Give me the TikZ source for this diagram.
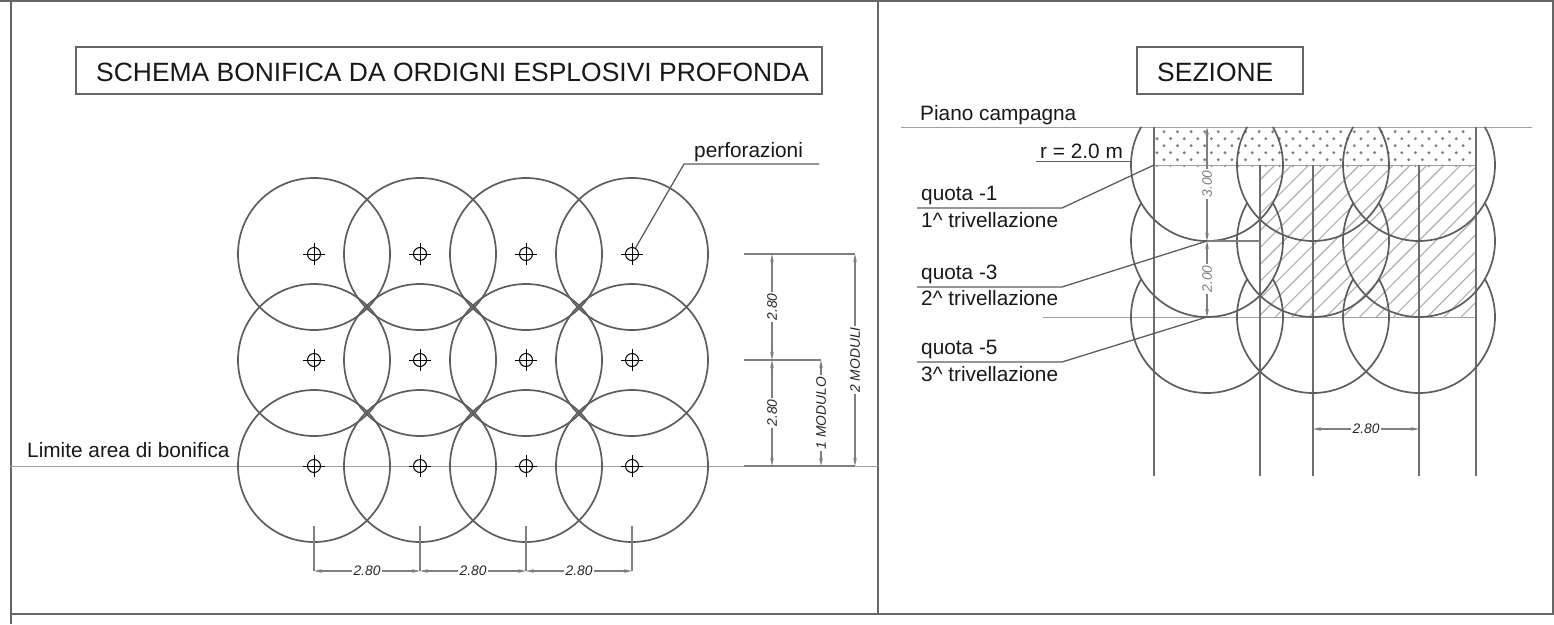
\documentclass[tikz,border=0pt]{standalone}
\usepackage{fontspec}
\setmainfont{Liberation Sans}
\usetikzlibrary{arrows.meta,calc}
\definecolor{linegray}{HTML}{5E5E5E}
\definecolor{columngray}{HTML}{6E6E6E}
\definecolor{framegray}{HTML}{666666}
\definecolor{dimgray}{HTML}{808080}
\definecolor{thingray}{HTML}{A0A0A0}
\definecolor{hatchgray}{HTML}{B0B0B0}
\tikzset{
  x=1pt,y=-1pt,
  frameline/.style={draw=framegray,line width=2.2pt},
  titlebox/.style={draw=framegray,line width=1.5pt,inner sep=0pt},
  titletext/.style={font=\fontsize{26.45}{30}\selectfont,anchor=base west,inner sep=0pt,text=black!90},
  bigcircle/.style={draw=linegray,line width=1.7pt},
  column/.style={draw=columngray,line width=1.5pt},
  thinline/.style={draw=thingray,line width=0.9pt},
  leader/.style={draw=linegray,line width=1.3pt},
  label/.style={font=\fontsize{20.8}{24}\selectfont,anchor=base west,inner sep=0pt,text=black!90},
  dimline/.style={draw=dimgray,line width=1.3pt,{Stealth[length=8pt,width=3.6pt]}-{Stealth[length=8pt,width=3.6pt]}},
  extline/.style={draw=dimgray,line width=1.6pt},
  dimtext/.style={font=\fontsize{13.8}{16}\itshape\selectfont,fill=white,inner xsep=1.5pt,inner ysep=0.5pt,text=black!85},
  dimgraytext/.style={dimtext,text=dimgray},
  hole/.style={circle,draw=black,line width=1pt,minimum size=13pt,inner sep=0pt},
}
\begin{document}
\begin{tikzpicture}
\useasboundingbox (0,0) rectangle (1554,624);
\fill[white] (0,0) rectangle (1554,624);
% frame
\draw[frameline] (0,1) -- (1554,1);
\draw[frameline] (11,0) -- (11,624);
\draw[frameline] (878,0) -- (878,614);
\draw[frameline] (1553,0) -- (1553,614);
\draw[frameline] (11,614) -- (1554,614);
% titles
\node[titlebox,minimum width=746pt,minimum height=47pt] (t1) at (449,70.5) {};
\node[titletext] (t1t) at (96,81) {SCHEMA BONIFICA DA ORDIGNI ESPLOSIVI PROFONDA};
\node[titlebox,minimum width=166pt,minimum height=47pt] (t2) at (1220,70.5) {};
\node[titletext] (t2t) at (1157,81) {SEZIONE};
% left plan
\draw[thinline] (10,466) -- (878,466);
\foreach \cx/\ci in {314/1,420/2,526/3,632/4}{
  \foreach \cy/\cj in {254/1,360/2,466/3}{
    \draw[bigcircle] (\cx,\cy) circle[radius=76pt];
    \node[hole] (h\ci\cj) at (\cx,\cy) {};
    \draw[black,line width=1pt] (\cx-11,\cy) -- (\cx+11,\cy) (\cx,\cy-11) -- (\cx,\cy+11);
  }
}
\node[label] (perf) at (694,157) {perforazioni};
\coordinate (pa) at (684,164);
\coordinate (pb) at (819,164);
\draw[leader] (pb) -- (pa) -- (h41);
\node[label] (limite) at (27,457) {Limite area di bonifica};
% left vertical dimensions
\coordinate (d1) at (772,254); \coordinate (d2) at (772,360); \coordinate (d3) at (772,466);
\coordinate (m1) at (821,360); \coordinate (m2) at (821,466);
\coordinate (n1) at (855,254); \coordinate (n2) at (855,466);
\draw[extline] (744,254) -- (n1);
\draw[extline] (744,360) -- (m1);
\draw[extline] (744,466) -- (n2);
\draw[dimline] (d1) -- node[dimtext,rotate=90] (e1) {2.80} (d2);
\draw[dimline] (d2) -- node[dimtext,rotate=90] (e2) {2.80} (d3);
\draw[dimline] (m1) -- node[dimtext,rotate=90] (e3) {1 MODULO} (m2);
\draw[dimline] (n1) -- node[dimtext,rotate=90] (e4) {2 MODULI} (n2);
% left bottom dimensions
\foreach \cx/\ci in {314/1,420/2,526/3,632/4}{
  \coordinate (b\ci) at (\cx,571);
  \draw[extline] (\cx,526) -- (b\ci);
}
\draw[dimline] (b1) -- node[dimtext] (f1) {2.80} (b2);
\draw[dimline] (b2) -- node[dimtext] (f2) {2.80} (b3);
\draw[dimline] (b3) -- node[dimtext] (f3) {2.80} (b4);
% section: dotted soil
\begin{scope}
  \clip (1154,127) rectangle (1476,166.5);
  \foreach \k in {0,...,24}{
    \foreach \ry in {131.7,145.7,159.7}{\fill[dimgray] (1163.9+13.6*\k,\ry) circle[radius=1.6pt];}
    \foreach \ry in {138.7,152.7}{\fill[dimgray] (1157+13.6*\k,\ry) circle[radius=1.6pt];}
    \fill[dimgray] (1157+13.6*\k,165.8) circle[radius=1.3pt];
  }
\end{scope}
% section: hatch
\begin{scope}
  \clip (1260,165) rectangle (1476,317);
  \foreach \k in {-10,...,14}{
    \draw[hatchgray,line width=1.1pt] (1258.2+16.9*\k,317) -- (1258.2+16.9*\k+160,157);
  }
\end{scope}
% section: lines
\draw[thinline] (901,127) -- (1532,127);
\draw[thinline] (1043,317) -- (1476,317);
\draw[thinline] (1154,165) -- (1476,165);
\foreach \x in {1154,1476}{\draw[column] (\x,127) -- (\x,476);}
\foreach \x in {1260,1313,1419}{\draw[column] (\x,165) -- (\x,476);}
% section: circles
\foreach \cy in {165,241,317}{
  \foreach \cx in {1207,1313,1419}{
    \coordinate (c) at (\cx,\cy);
    \draw[bigcircle] ($(c)+(150:76pt)$) arc[start angle=150,end angle=390,radius=76pt];
  }
}
% section: dimensions
\coordinate (s1) at (1207,127); \coordinate (s2) at (1207,241); \coordinate (s3) at (1207,317);
\draw[extline] (s2) -- (1260,241);
\draw[dimline] (s1) -- node[dimgraytext,rotate=90,pos=0.5] (g1) {3.00} (s2);
\draw[dimline] (s2) -- node[dimgraytext,rotate=90,pos=0.5] (g2) {2.00} (s3);
\coordinate (w1) at (1313,429); \coordinate (w2) at (1419,429);
\draw[dimline] (w1) -- node[dimtext] (w) {2.80} (w2);
% section: labels
\node[label] (piano) at (920,120.5) {Piano campagna};
\node[label] (raggio) at (1040,158) {r = 2.0 m};
\coordinate (ra) at (1036,161.5); \coordinate (rb) at (1131.5,161.5);
\draw[leader] (ra) -- (rb);
\node[label] (q1) at (921,200) {quota -1};
\node[label] (v1) at (921,227) {1\^{} trivellazione};
\node[label] (q2) at (921,279) {quota -3};
\node[label] (v2) at (921,305) {2\^{} trivellazione};
\node[label] (q3) at (921,354) {quota -5};
\node[label] (v3) at (921,381) {3\^{} trivellazione};
\coordinate (l1) at (917,208); \coordinate (k1) at (1062,208); \coordinate (z1) at (1154,165);
\coordinate (l2) at (917,287); \coordinate (k2) at (1062,287);
\coordinate (l3) at (917,362); \coordinate (k3) at (1062,362);
\draw[leader] (l1) -- (k1) -- (z1);
\draw[leader] (l2) -- (k2) -- (s2);
\draw[leader] (l3) -- (k3) -- (s3);
\end{tikzpicture}
\end{document}
